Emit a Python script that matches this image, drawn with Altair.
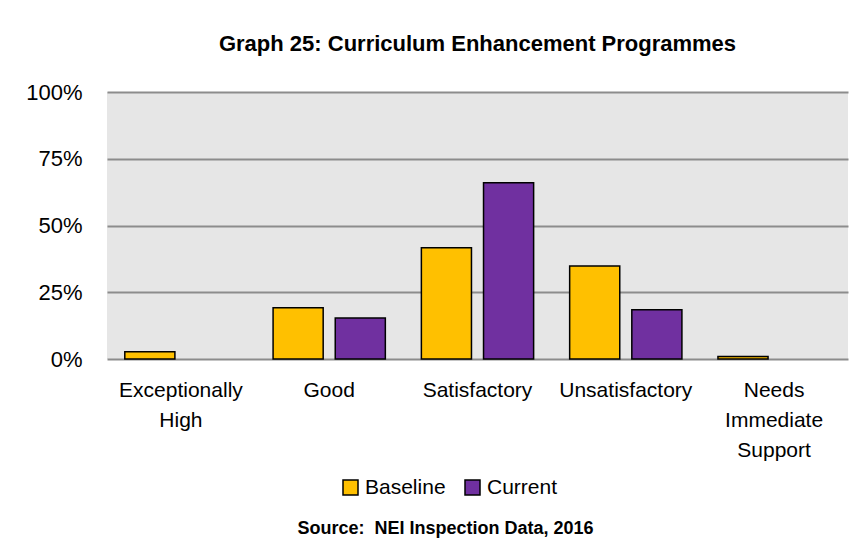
import altair as alt
import pandas as pd

categories = ["Exceptionally High", "Good", "Satisfactory", "Unsatisfactory", "Needs Immediate Support"]
series = ["Baseline", "Current"]
baseline = [2.7, 19.2, 41.7, 34.8, 0.9]
current = [0.0, 15.4, 66.0, 18.4, 0.0]
colors = ["#FFC000", "#7030A0"]
y_ticks = [0, 25, 50, 75, 100]

rows = []
for c, b, k in zip(categories, baseline, current):
    rows.append({"category": c, "series": "Baseline", "value": b})
    rows.append({"category": c, "series": "Current", "value": k})
df = pd.DataFrame(rows)

FONT = "Liberation Sans, Arial, sans-serif"

label_expr = (
    "datum.value == 'Exceptionally High' ? ['Exceptionally', 'High'] : "
    "datum.value == 'Needs Immediate Support' ? ['Needs', 'Immediate', 'Support'] : datum.value"
)

chart = (
    alt.Chart(df)
    .transform_filter("datum.value > 0")
    .mark_bar(stroke="black", strokeWidth=1.5)
    .encode(
        x=alt.X(
            "category:N",
            sort=categories,
            scale=alt.Scale(domain=categories, paddingInner=0.243, paddingOuter=0.12),
            axis=alt.Axis(
                title="Source:\u00a0 NEI Inspection Data, 2016",
                titleFont=FONT,
                titleFontSize=18,
                titleFontWeight="bold",
                titleColor="black",
                titleX=338,
                titleY=174,
                titleAlign="center",
                titleBaseline="alphabetic",
                labelExpr=label_expr,
                labelFont=FONT,
                labelFontSize=21,
                labelColor="black",
                labelLineHeight=30,
                labelPadding=20,
                labelAngle=0,
                ticks=False,
                domain=False,
                grid=False,
            ),
        ),
        xOffset=alt.XOffset("series:N", scale=alt.Scale(domain=series, paddingInner=0.194)),
        y=alt.Y(
            "value:Q",
            scale=alt.Scale(domain=[0, 100]),
            axis=alt.Axis(
                title=None,
                values=y_ticks,
                labelExpr="datum.value + '%'",
                labelFont=FONT,
                labelFontSize=22,
                labelColor="black",
                labelPadding=25,
                ticks=False,
                domain=False,
                grid=True,
                gridColor="#8c8c8c",
                gridWidth=2,
            ),
        ),
        color=alt.Color(
            "series:N",
            scale=alt.Scale(domain=series, range=colors),
            legend=alt.Legend(
                title=None,
                orient="none",
                direction="horizontal",
                legendX=233,
                legendY=385,
                symbolType="square",
                symbolSize=225,
                symbolStrokeColor="black",
                symbolStrokeWidth=1.5,
                symbolOpacity=1,
                labelFont=FONT,
                labelFontSize=21,
                labelColor="black",
                labelOffset=4,
                columnPadding=16,
                padding=0,
            ),
        ),
    )
    .properties(
        width=741,
        height=267,
        title=alt.TitleParams(
            "Graph 25: Curriculum Enhancement Programmes",
            font=FONT,
            fontSize=22,
            fontWeight="bold",
            color="black",
            anchor="middle",
            offset=25,
        ),
        autosize=alt.AutoSizeParams(type="none"),
        padding={"left": 99, "top": 84, "right": 11, "bottom": 180},
        background="white",
    )
    .configure_view(fill="#E6E6E6", stroke=None)
)

chart.save("out.html", embed_options={"renderer": "svg", "actions": False})
